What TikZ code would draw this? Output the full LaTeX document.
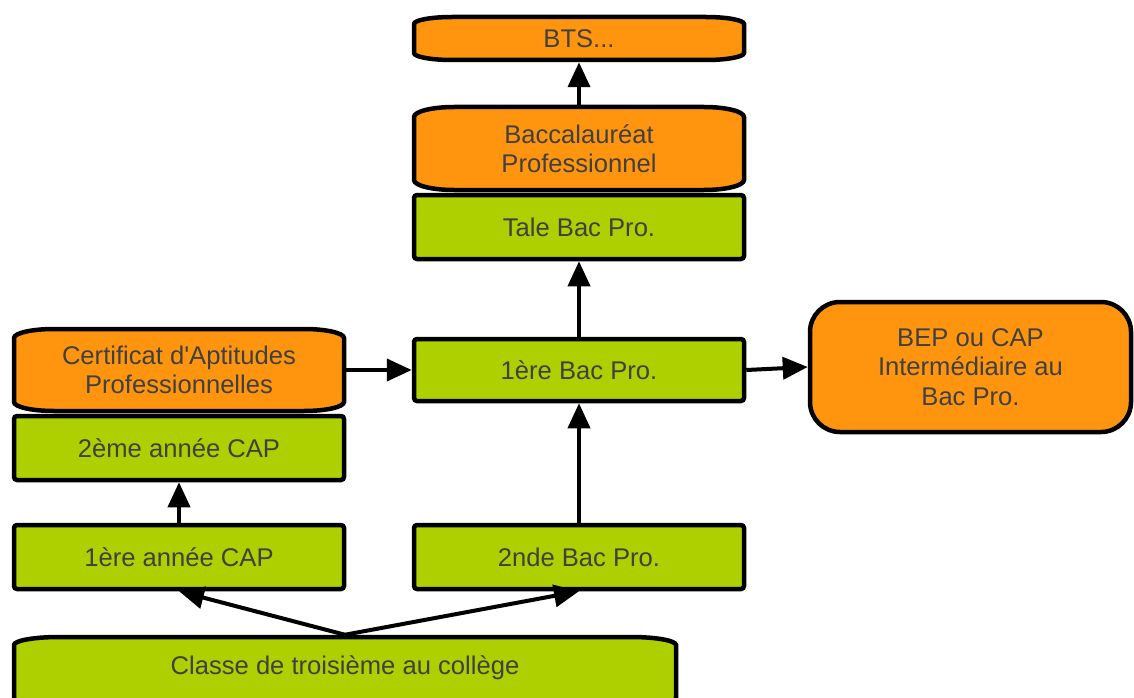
\documentclass[tikz,border=0pt]{standalone}
\usepackage{fontspec}
\setmainfont{Liberation Sans}
\usetikzlibrary{arrows.meta}
\definecolor{borange}{HTML}{FF950E}
\definecolor{bgreen}{HTML}{AECF00}
\definecolor{btext}{HTML}{404040}
\newcommand{\tapebox}[9]{% name, x1,y1,x2,y2, rx, ry, text, fill
  \draw[boxline, fill=#9]
    (#2,#3+#7) .. controls (#2,#3+0.45*#7) and (#2+0.45*#6,#3) .. (#2+#6,#3)
    -- (#4-#6,#3) .. controls (#4-0.45*#6,#3) and (#4,#3+0.45*#7) .. (#4,#3+#7)
    -- (#4,#5-#7) .. controls (#4,#5-0.45*#7) and (#4-0.45*#6,#5) .. (#4-#6,#5)
    -- (#2+#6,#5) .. controls (#2+0.45*#6,#5) and (#2,#5-0.45*#7) .. (#2,#5-#7)
    -- cycle;
  \node[txt, inner sep=0pt, outer sep=2.25pt, minimum width=#4-#2, minimum height=#5-#3]
    (#1) at ({(#2+#4)/2},{(#3+#5)/2}) {#8};
}
\begin{document}
\begin{tikzpicture}[x=1pt,y=-1pt,
  boxline/.style={draw=black, line width=4.5pt},
  txt/.style={text=btext, font=\fontsize{25.6}{29.5}\selectfont, align=center},
  greenbox/.style={boxline, txt, fill=bgreen, rounded corners=3pt, minimum width=330pt, minimum height=64pt, inner sep=0pt},
  orangebox/.style={boxline, txt, fill=borange, rounded corners=30pt, minimum width=321pt, minimum height=130pt, inner sep=0pt},
  arr/.style={draw=black, line width=4pt, -{Triangle[length=25pt,width=22pt]}}
]
\useasboundingbox (0,0) rectangle (1134,698);

\tapebox{bts}{414}{17}{744}{60}{38}{7}{BTS...}{borange}
\tapebox{bacc}{414}{107}{744}{190}{40}{10}{Baccalauréat\\Professionnel}{borange}
\tapebox{cert}{14}{329}{344}{411}{40}{9}{Certificat d\textquotesingle Aptitudes\\Professionnelles}{borange}
\tapebox{classe}{14}{637}{676}{706}{45}{8}{}{bgreen}
\node[txt] (classetext) at (345,668) {Classe de troisième au collège};

\node[greenbox] (tale) at (579,227) {Tale Bac Pro.};
\node[greenbox, minimum height=62pt] (bac1) at (579,370) {1ère Bac Pro.};
\node[greenbox] (bac2) at (579,557) {2nde Bac Pro.};
\node[greenbox] (cap2) at (179,448) {2ème année CAP};
\node[greenbox] (cap1) at (179,557) {1ère année CAP};
\node[orangebox] (bep) at (970.5,367) {BEP ou CAP\\Intermédiaire au\\Bac Pro.};

\draw[arr] (bacc.north) -- (bts.south);
\draw[arr] (bac1.north) -- (tale.south);
\draw[arr] (bac2.north) -- (bac1.south);
\draw[arr] (cap1.north) -- (cap2.south);
\draw[arr] (cert.east) -- (bac1.west);
\draw[arr] (bac1.east) -- (bep.west);
\draw[arr] (classe.north) -- (cap1.south);
\draw[arr] (classe.north) -- (bac2.south);
\end{tikzpicture}
\end{document}
